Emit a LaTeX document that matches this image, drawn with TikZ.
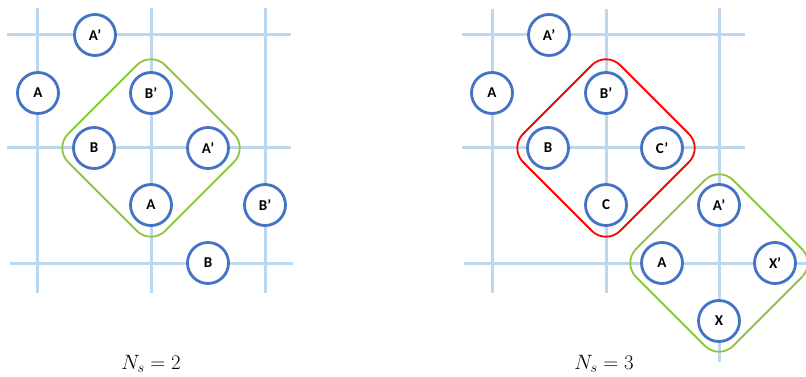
\documentclass[tikz,border=0pt]{standalone}
\usepackage{fontspec}
\setmainfont{Carlito}
\usetikzlibrary{calc}
\definecolor{gridblue}{HTML}{BDD7EE}
\definecolor{nodeblue}{HTML}{4472C4}
\definecolor{grpgreen}{HTML}{8CC63F}
\definecolor{grpred}{HTML}{FF0000}
\begin{document}
\begin{tikzpicture}[x=1pt,y=-1pt,
  gridline/.style={draw=gridblue,line width=3pt},
  site/.style={circle,draw=nodeblue,fill=white,line width=2.8pt,minimum size=41pt,inner sep=0pt,font=\fontsize{15}{15}\selectfont\bfseries},
  group/.style={line width=1.8pt,rounded corners=20pt},
  caption/.style={font=\fontsize{22}{22}\selectfont,anchor=base}]
\useasboundingbox (0,0) rectangle (806,377);
% left grid
\draw[gridline] (37,8) -- (37,293) (151,8) -- (151,293) (265,8) -- (265,293);
\draw[gridline] (7,35) -- (291,35) (7,148) -- (291,148) (10,263) -- (293,263);
% right grid
\draw[gridline] (492,9) -- (492,293) (606,9) -- (606,293) (719,8) -- (719,362);
\draw[gridline] (462,35) -- (745,35) (462,148) -- (745,148) (464,263) -- (806,263);
% groups
\coordinate (gl) at (151,148);
\coordinate (gr) at (606,148);
\coordinate (gg) at (719,263);
\draw[group,draw=grpgreen] ($(gl)+(0,-97)$) -- ($(gl)+(97,0)$) -- ($(gl)+(0,97)$) -- ($(gl)+(-97,0)$) -- cycle;
\draw[group,draw=grpred] ($(gr)+(0,-97)$) -- ($(gr)+(97,0)$) -- ($(gr)+(0,97)$) -- ($(gr)+(-97,0)$) -- cycle;
\draw[group,draw=grpgreen] ($(gg)+(0,-97)$) -- ($(gg)+(97,0)$) -- ($(gg)+(0,97)$) -- ($(gg)+(-97,0)$) -- cycle;
% left sites
\node[site] (l1) at (95,35) {A’};
\node[site] (l2) at (38,93) {A};
\node[site] (l3) at (151,93) {B’};
\node[site] (l4) at (94,148) {B};
\node[site] (l5) at (208,148) {A’};
\node[site] (l6) at (151,205) {A};
\node[site] (l7) at (265,205) {B’};
\node[site] (l8) at (208,263) {B};
% right sites
\node[site] (r1) at (549,35) {A’};
\node[site] (r2) at (492,93) {A};
\node[site] (r3) at (606,93) {B’};
\node[site] (r4) at (548,148) {B};
\node[site] (r5) at (662,148) {C’};
\node[site] (r6) at (606,205) {C};
\node[site] (r7) at (719,205) {A’};
\node[site] (r8) at (662,263) {A};
\node[site] (r9) at (775,263) {X’};
\node[site] (r10) at (719,321) {X};
% captions
\node[caption] (cl) at (151,369) {$N_s=2$};
\node[caption] (cr) at (604,369) {$N_s=3$};
\end{tikzpicture}
\end{document}
